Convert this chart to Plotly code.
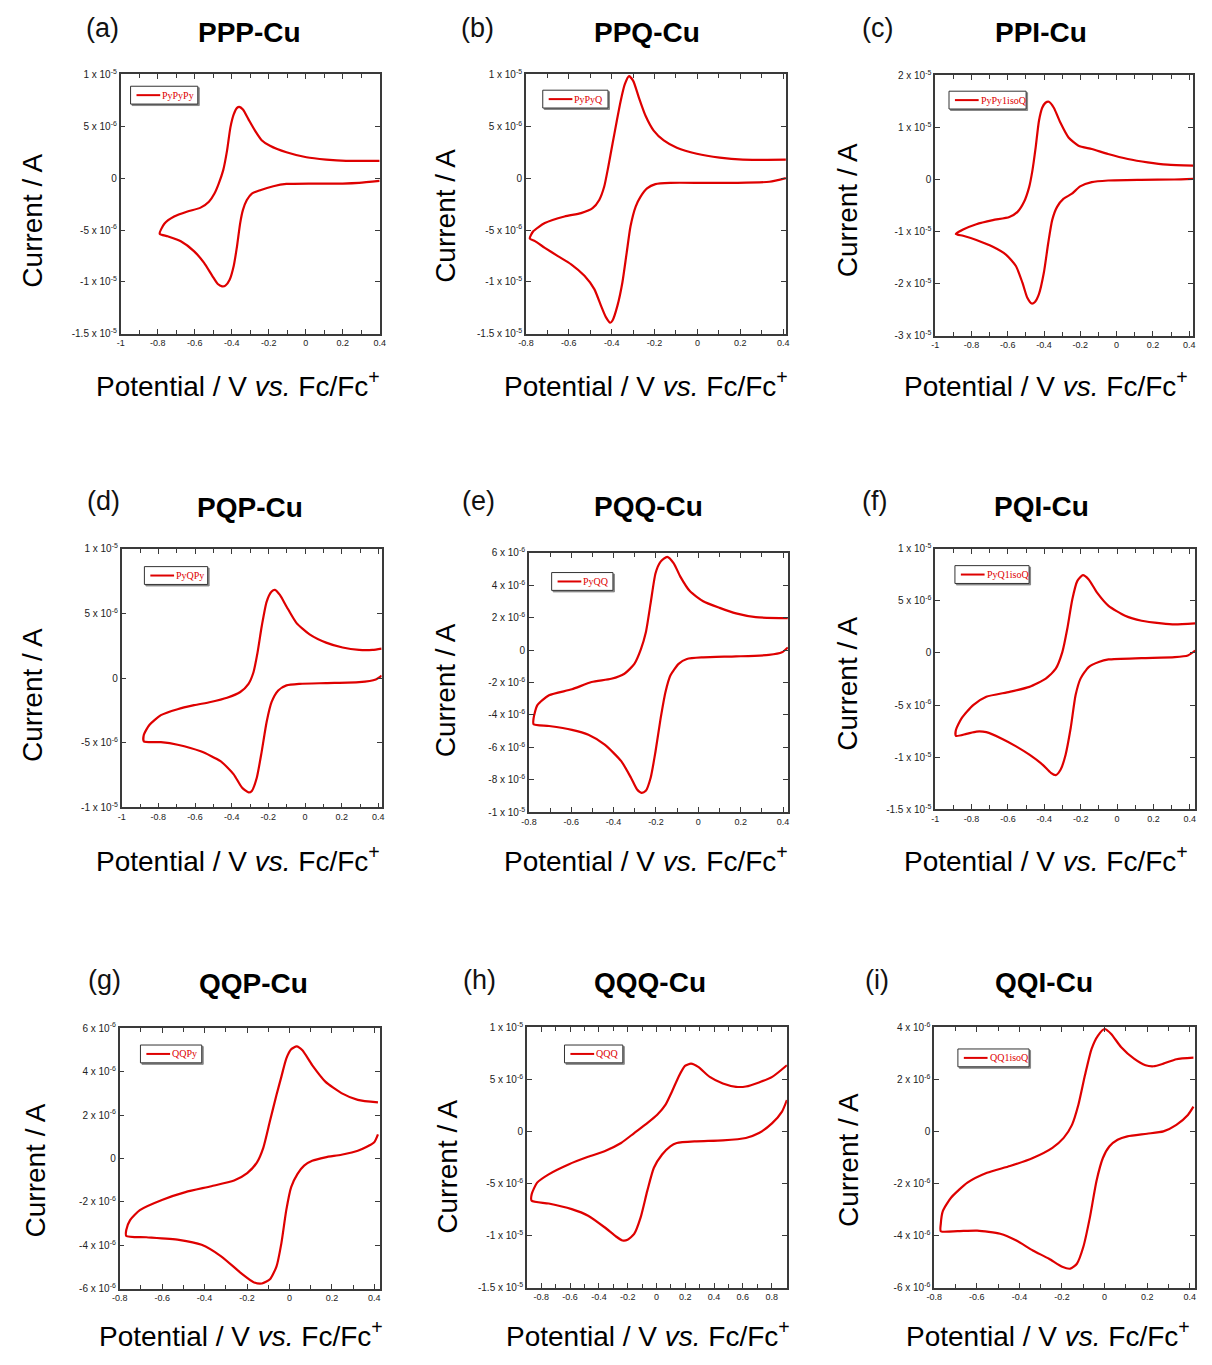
import math
import plotly.graph_objects as go

# ---------------- data (potential in V vs Fc/Fc+, current in units of 1e-6 A) ----------------
TITLES = ["PPP-Cu", "PPQ-Cu", "PPI-Cu", "PQP-Cu", "PQQ-Cu", "PQI-Cu", "QQP-Cu", "QQQ-Cu", "QQI-Cu"]
LETTERS = ["(a)", "(b)", "(c)", "(d)", "(e)", "(f)", "(g)", "(h)", "(i)"]
LEGEND_NAMES = ["PyPyPy", "PyPyQ", "PyPy1isoQ", "PyQPy", "PyQQ", "PyQ1isoQ", "QQPy", "QQQ", "QQ1isoQ"]

PPP_E = [0.4, 0.289, 0.2, 0.039, -0.104, -0.175, -0.246, -0.291, -0.318, -0.339, -0.354, -0.371, -0.389,
         -0.411, -0.434, -0.452, -0.475, -0.505, -0.55, -0.604, -0.675, -0.746, -0.789,
         -0.764, -0.711, -0.639, -0.568, -0.523, -0.493, -0.470, -0.446, -0.425, -0.407, -0.389, -0.371,
         -0.359, -0.339, -0.309, -0.273, -0.238, -0.193, -0.104, 0.004, 0.111, 0.218, 0.4]
PPP_I = [-0.27, -0.46, -0.52, -0.52, -0.56, -0.78, -1.16, -1.48, -2.11, -3.06, -4.33, -6.55, -8.46,
         -9.79, -10.36, -10.42, -10.2, -9.41, -8.14, -7.03, -6.08, -5.6, -5.35,
         -4.39, -3.70, -3.22, -2.84, -2.27, -1.48, -0.52, 0.75, 2.65, 4.87, 6.14, 6.77,
         6.87, 6.61, 5.66, 4.55, 3.66, 3.12, 2.49, 2.01, 1.79, 1.67, 1.67]

PPQ_E = [0.413, 0.336, 0.181, 0.027, -0.127, -0.196, -0.235, -0.265, -0.288, -0.312, -0.33, -0.35, -0.373,
         -0.396, -0.407, -0.427, -0.45, -0.481, -0.527, -0.589, -0.651, -0.712, -0.758, -0.782,
         -0.766, -0.712, -0.62, -0.543, -0.489, -0.458, -0.435, -0.416, -0.396, -0.376, -0.358, -0.339,
         -0.319, -0.299, -0.273, -0.242, -0.204, -0.157, -0.096, -0.003, 0.104, 0.212, 0.413]
PPQ_I = [0.0, -0.35, -0.45, -0.45, -0.45, -0.57, -0.99, -1.78, -2.74, -4.64, -7.19, -10.05, -12.28,
         -13.71, -13.93, -13.39, -12.28, -10.69, -9.41, -8.3, -7.51, -6.71, -6.07, -5.82,
         -5.12, -4.33, -3.69, -3.37, -2.89, -2.1, -0.83, 1.08, 3.31, 5.53, 7.44, 9.03,
         9.83, 9.35, 7.76, 6.01, 4.58, 3.63, 2.93, 2.35, 1.97, 1.78, 1.78]

PPI_E = [0.422, 0.317, 0.135, -0.047, -0.137, -0.201, -0.246, -0.292, -0.328, -0.355, -0.377, -0.401, -0.428,
         -0.45, -0.468, -0.492, -0.519, -0.555, -0.61, -0.682, -0.773, -0.846, -0.886,
         -0.846, -0.773, -0.682, -0.591, -0.546, -0.51, -0.482, -0.464, -0.446, -0.428, -0.41, -0.392,
         -0.373, -0.346, -0.31, -0.265, -0.21, -0.137, -0.047, 0.062, 0.171, 0.28, 0.422]
PPI_I = [0.14, 0.01, -0.05, -0.18, -0.49, -1.32, -2.72, -3.67, -5.25, -7.79, -12.23, -17.9, -22.0,
         -23.5, -23.8, -22.7, -19.8, -16.6, -14.4, -12.9, -11.6, -10.8, -10.45,
         -9.6, -8.58, -7.8, -7.18, -6.2, -4.27, -1.45, 1.72, 6.17, 11.24, 13.78, 14.74,
         14.93, 13.78, 10.93, 8.07, 6.49, 5.85, 4.9, 3.95, 3.31, 2.87, 2.68]

PQP_E = [0.418, 0.386, 0.295, 0.115, -0.029, -0.101, -0.146, -0.182, -0.209, -0.236, -0.263, -0.29, -0.308,
         -0.344, -0.389, -0.461, -0.569, -0.695, -0.786, -0.879,
         -0.879, -0.849, -0.786, -0.695, -0.605, -0.515, -0.425, -0.353, -0.308, -0.281, -0.259, -0.236,
         -0.209, -0.182, -0.164, -0.137, -0.101, -0.047, 0.025, 0.115, 0.205, 0.295, 0.368, 0.418]
PQP_I = [0.19, -0.11, -0.32, -0.39, -0.45, -0.57, -0.96, -1.85, -3.38, -5.67, -7.71, -8.73, -8.85,
         -8.47, -7.45, -6.43, -5.67, -5.16, -4.96, -4.9,
         -4.39, -3.63, -2.87, -2.41, -2.1, -1.85, -1.52, -1.08, -0.45, 0.45, 1.97, 4.01,
         5.92, 6.69, 6.82, 6.43, 5.54, 4.27, 3.38, 2.74, 2.36, 2.18, 2.18, 2.28]

PQQ_E = [0.423, 0.395, 0.333, 0.178, 0.023, -0.054, -0.093, -0.132, -0.155, -0.178, -0.202, -0.225, -0.248,
         -0.268, -0.29, -0.318, -0.364, -0.442, -0.519, -0.597, -0.705, -0.778,
         -0.778, -0.76, -0.705, -0.597, -0.504, -0.411, -0.349, -0.302, -0.271, -0.248, -0.225, -0.202,
         -0.178, -0.147, -0.116, -0.085, -0.039, 0.023, 0.101, 0.178, 0.271, 0.423]
PQQ_I = [0.16, -0.14, -0.3, -0.39, -0.45, -0.55, -0.85, -1.57, -2.58, -4.21, -6.24, -7.87, -8.68,
         -8.8, -8.58, -7.87, -6.85, -5.83, -5.22, -4.92, -4.68, -4.57,
         -4.21, -3.39, -2.79, -2.42, -1.97, -1.77, -1.46, -0.85, 0.06, 1.08, 2.91, 4.74,
         5.45, 5.75, 5.35, 4.53, 3.62, 3.01, 2.6, 2.26, 2.03, 1.97]

PQI_E = [0.429, 0.389, 0.317, 0.135, -0.047, -0.101, -0.156, -0.201, -0.228, -0.255, -0.283, -0.31, -0.337,
         -0.364, -0.41, -0.482, -0.555, -0.628, -0.719, -0.773, -0.828, -0.886,
         -0.886, -0.855, -0.791, -0.719, -0.591, -0.482, -0.392, -0.337, -0.301, -0.274, -0.246, -0.219,
         -0.188, -0.156, -0.11, -0.047, 0.044, 0.135, 0.244, 0.317, 0.429]
PQI_I = [0.24, -0.24, -0.4, -0.49, -0.62, -0.87, -1.35, -2.46, -4.04, -7.2, -9.76, -11.18, -11.72,
         -11.5, -10.71, -9.76, -8.96, -8.27, -7.6, -7.54, -7.76, -7.95,
         -7.38, -6.27, -5.0, -4.2, -3.73, -3.25, -2.46, -1.51, 0.08, 2.3, 5.16, 6.9,
         7.47, 7.06, 5.79, 4.52, 3.57, 3.09, 2.84, 2.74, 2.84]

QQP_E = [0.417, 0.398, 0.322, 0.245, 0.169, 0.107, 0.069, 0.038, 0.008, -0.015, -0.038, -0.061, -0.092,
         -0.13, -0.169, -0.23, -0.322, -0.414, -0.521, -0.674, -0.769,
         -0.769, -0.751, -0.705, -0.598, -0.49, -0.368, -0.261, -0.199, -0.153, -0.123, -0.092, -0.061,
         -0.038, -0.015, 0.008, 0.034, 0.061, 0.107, 0.169, 0.245, 0.322, 0.417]
QQP_I = [1.11, 0.73, 0.35, 0.17, 0.05, -0.11, -0.33, -0.71, -1.32, -2.38, -3.9, -4.97, -5.57,
         -5.76, -5.7, -5.27, -4.51, -3.98, -3.75, -3.63, -3.57,
         -3.3, -2.84, -2.38, -1.9, -1.55, -1.28, -1.02, -0.68, -0.18, 0.5, 1.72, 2.93,
         3.77, 4.6, 5.03, 5.16, 4.98, 4.3, 3.54, 3.01, 2.7, 2.58]

QQQ_E = [0.906, 0.872, 0.804, 0.712, 0.621, 0.461, 0.278, 0.141, 0.096, 0.039, -0.018, -0.064, -0.110,
         -0.155, -0.201, -0.236, -0.281, -0.361, -0.475, -0.589, -0.749, -0.867,
         -0.867, -0.829, -0.749, -0.611, -0.475, -0.361, -0.246, -0.155, -0.064, 0.005, 0.062, 0.107,
         0.153, 0.198, 0.240, 0.290, 0.370, 0.461, 0.553, 0.621, 0.712, 0.804, 0.906]
QQQ_I = [3.01, 1.9, 0.79, -0.16, -0.63, -0.86, -0.95, -1.11, -1.43, -2.22, -3.49, -5.71, -8.25,
         -9.84, -10.41, -10.47, -10.09, -9.2, -8.09, -7.46, -6.92, -6.66,
         -6.03, -4.92, -4.12, -3.17, -2.44, -1.9, -1.11, -0.16, 0.79, 1.59, 2.54, 3.81,
         5.23, 6.28, 6.5, 6.19, 5.23, 4.6, 4.28, 4.31, 4.7, 5.23, 6.35]

QQI_E = [0.417, 0.391, 0.337, 0.276, 0.199, 0.107, 0.061, 0.023, -0.008, -0.038, -0.069, -0.1, -0.13,
         -0.161, -0.199, -0.261, -0.337, -0.414, -0.49, -0.598, -0.69, -0.769,
         -0.769, -0.759, -0.72, -0.644, -0.552, -0.444, -0.337, -0.245, -0.192, -0.153, -0.123, -0.092,
         -0.061, -0.031, 0.0, 0.031, 0.077, 0.138, 0.192, 0.23, 0.276, 0.337, 0.417]
QQI_I = [0.95, 0.63, 0.25, 0.0, -0.09, -0.19, -0.32, -0.57, -1.02, -1.9, -3.3, -4.44, -5.08,
         -5.27, -5.2, -4.89, -4.57, -4.19, -3.93, -3.81, -3.83, -3.83,
         -3.55, -3.05, -2.54, -1.97, -1.59, -1.33, -1.02, -0.63, -0.25, 0.25, 1.02, 2.16,
         3.17, 3.68, 3.93, 3.74, 3.24, 2.79, 2.54, 2.5, 2.6, 2.77, 2.83]

POTENTIALS = [PPP_E, PPQ_E, PPI_E, PQP_E, PQQ_E, PQI_E, QQP_E, QQQ_E, QQI_E]
CURRENTS_uA = [PPP_I, PPQ_I, PPI_I, PQP_I, PQQ_I, PQI_I, QQP_I, QQQ_I, QQI_I]

# axis limits and tick values
X_RANGES = [[-1, 0.4], [-0.8, 0.413], [-1, 0.422], [-1, 0.418], [-0.8, 0.423],
            [-1, 0.429], [-0.8, 0.425], [-0.9, 0.906], [-0.8, 0.425]]
Y_RANGES = [[-1.5e-5, 1e-5], [-1.5e-5, 1e-5], [-3e-5, 2e-5], [-1e-5, 1e-5], [-1e-5, 6e-6],
            [-1.5e-5, 1e-5], [-6e-6, 6e-6], [-1.5e-5, 1e-5], [-6e-6, 4e-6]]
X_TICKS_1 = [-1, -0.8, -0.6, -0.4, -0.2, 0, 0.2, 0.4]
X_TICKS_08 = [-0.8, -0.6, -0.4, -0.2, 0, 0.2, 0.4]
X_TICKS_H = [-0.8, -0.6, -0.4, -0.2, 0, 0.2, 0.4, 0.6, 0.8]
X_TICKS = [X_TICKS_1, X_TICKS_08, X_TICKS_1, X_TICKS_1, X_TICKS_08, X_TICKS_1, X_TICKS_08, X_TICKS_H, X_TICKS_08]
Y_TICKS_15 = [-1.5e-5, -1e-5, -5e-6, 0, 5e-6, 1e-5]
Y_TICKS = [Y_TICKS_15, Y_TICKS_15,
           [-3e-5, -2e-5, -1e-5, 0, 1e-5, 2e-5],
           [-1e-5, -5e-6, 0, 5e-6, 1e-5],
           [-1e-5, -8e-6, -6e-6, -4e-6, -2e-6, 0, 2e-6, 4e-6, 6e-6],
           Y_TICKS_15,
           [-6e-6, -4e-6, -2e-6, 0, 2e-6, 4e-6, 6e-6],
           Y_TICKS_15,
           [-6e-6, -4e-6, -2e-6, 0, 2e-6, 4e-6]]

# ---------------- layout geometry (pixels in the 1212x1365 window) ----------------
W, H = 1212, 1365
PLOT_BOXES = [  # left, top, right, bottom
    (114, 68, 376, 330), (524, 68, 787, 330), (938, 69, 1199, 332),
    (115, 547, 378, 808), (527, 551, 789, 813), (938, 547, 1201, 810),
    (113, 1031, 376, 1294), (525, 1030, 788, 1293), (937, 1030, 1201, 1293),
]
LETTER_POS = [(96, 21), (475, 21), (880, 21), (97, 499), (476, 499), (877, 499), (98, 982), (477, 982), (879, 982)]
TITLE_POS = [(244, 26), (646, 26), (1045, 26), (245, 505), (648, 504), (1046, 504), (248, 986), (650, 985), (1048, 985)]
XLAB_POS = [(233, 381), (645, 381), (1050, 381), (233, 860), (645, 860), (1050, 860), (236, 1340), (647, 1340), (1052, 1340)]
YLAB_POS = [(25, 216), (443, 211), (849, 205), (25, 695), (443, 690), (849, 683), (28, 1175), (445, 1171), (851, 1164)]
LEGEND_BOXES = [  # left, top, right, bottom
    (124, 80, 192, 98), (541, 84, 607, 102), (952, 85, 1030, 103),
    (138, 565, 202, 583), (550, 571, 612, 589), (958, 564, 1033, 582),
    (134, 1048, 196, 1066), (563, 1048, 622, 1066), (961, 1052, 1033, 1070),
]

RED = "rgb(222,0,0)"
AXC = "#3a3a3a"
SANS = "Liberation Sans, Arial, Helvetica, sans-serif"
SERIF = "Liberation Serif, Times New Roman, serif"


def sci_label(v):
    if v == 0:
        return "0"
    e = math.floor(math.log10(abs(v)) + 1e-9)
    m = v / 10 ** e
    return f"{m:g} x 10<sup>{e}</sup>"


def px_x(x):
    return x / W


def px_y(y):
    return 1 - y / H


fig = go.Figure()
layout = dict(
    width=W, height=H, margin=dict(l=0, r=0, t=0, b=0, pad=0),
    paper_bgcolor="white", plot_bgcolor="white", showlegend=False,
    font=dict(family=SANS, color="#111"),
)
annotations = []
shapes = []

for k in range(9):
    n = "" if k == 0 else str(k + 1)
    L, T, R, B = PLOT_BOXES[k]
    xa = dict(
        domain=[px_x(L), px_x(R)], anchor="y" + n, range=X_RANGES[k],
        tickmode="array", tickvals=X_TICKS[k], ticktext=[f"{v:g}" for v in X_TICKS[k]],
        ticks="inside", ticklen=5, tickwidth=1.2, tickcolor=AXC,
        minor=dict(ticks="inside", ticklen=4, tickwidth=1.2, tickcolor=AXC, tickmode="linear", tick0=0, dtick=0.1),
        showline=True, linecolor=AXC, linewidth=1.6, mirror="ticks",
        showgrid=False, zeroline=False,
        tickfont=dict(family=SANS, size=9, color="#222"),
    )
    ya = dict(
        domain=[px_y(B), px_y(T)], anchor="x" + n, range=Y_RANGES[k],
        tickmode="array", tickvals=Y_TICKS[k], ticktext=[sci_label(v) for v in Y_TICKS[k]],
        ticks="inside", ticklen=5, tickwidth=1.2, tickcolor=AXC,
        showline=True, linecolor=AXC, linewidth=1.6, mirror="ticks",
        showgrid=False, zeroline=False,
        tickfont=dict(family=SANS, size=10, color="#222"),
    )
    layout["xaxis" + n] = xa
    layout["yaxis" + n] = ya

    fig.add_trace(go.Scatter(
        x=POTENTIALS[k], y=[v * 1e-6 for v in CURRENTS_uA[k]],
        mode="lines", name=LEGEND_NAMES[k],
        line=dict(color=RED, width=2.2, shape="spline", smoothing=0.6),
        xaxis="x" + n, yaxis="y" + n,
    ))

    # boxed key, as in the original
    l0, t0, r0, b0 = LEGEND_BOXES[k]
    shapes.append(dict(type="rect", xref="paper", yref="paper", layer="above",
                       x0=px_x(l0 + 1.5), x1=px_x(r0 + 1.5), y0=px_y(b0 + 1.5), y1=px_y(t0 + 1.5),
                       line=dict(color="#888", width=1), fillcolor="#888"))
    shapes.append(dict(type="rect", xref="paper", yref="paper", layer="above",
                       x0=px_x(l0), x1=px_x(r0), y0=px_y(b0), y1=px_y(t0),
                       line=dict(color="#333", width=1), fillcolor="white"))
    ym = (t0 + b0) / 2
    shapes.append(dict(type="line", xref="paper", yref="paper", layer="above",
                       x0=px_x(l0 + 6), x1=px_x(l0 + 30), y0=px_y(ym), y1=px_y(ym),
                       line=dict(color=RED, width=2)))
    annotations.append(dict(text=LEGEND_NAMES[k], x=px_x(l0 + 31), y=px_y(ym), xref="paper", yref="paper",
                            showarrow=False, xanchor="left", yanchor="middle", borderpad=0,
                            font=dict(family=SERIF, size=10, color=RED)))

    cx, cy = LETTER_POS[k]
    annotations.append(dict(text=LETTERS[k], x=px_x(cx), y=px_y(cy), xref="paper", yref="paper",
                            showarrow=False, xanchor="center", yanchor="middle",
                            font=dict(family=SANS, size=27, color="#111")))
    cx, cy = TITLE_POS[k]
    annotations.append(dict(text="<b>" + TITLES[k] + "</b>", x=px_x(cx), y=px_y(cy), xref="paper", yref="paper",
                            showarrow=False, xanchor="center", yanchor="middle",
                            font=dict(family=SANS, size=28, color="#000")))
    cx, cy = XLAB_POS[k]
    annotations.append(dict(text="Potential / V <i>vs.</i> Fc/Fc<sup>+</sup>", x=px_x(cx), y=px_y(cy),
                            xref="paper", yref="paper", showarrow=False, xanchor="center", yanchor="middle",
                            font=dict(family=SANS, size=28, color="#000")))
    cx, cy = YLAB_POS[k]
    annotations.append(dict(text="Current / A", x=px_x(cx), y=px_y(cy), xref="paper", yref="paper",
                            showarrow=False, xanchor="center", yanchor="middle", textangle=-90,
                            font=dict(family=SANS, size=28, color="#000")))

layout["annotations"] = annotations
layout["shapes"] = shapes
fig.update_layout(**layout)

fig.write_html("out.html", config={"displayModeBar": False},
               post_script="document.body.style.margin='0';")
